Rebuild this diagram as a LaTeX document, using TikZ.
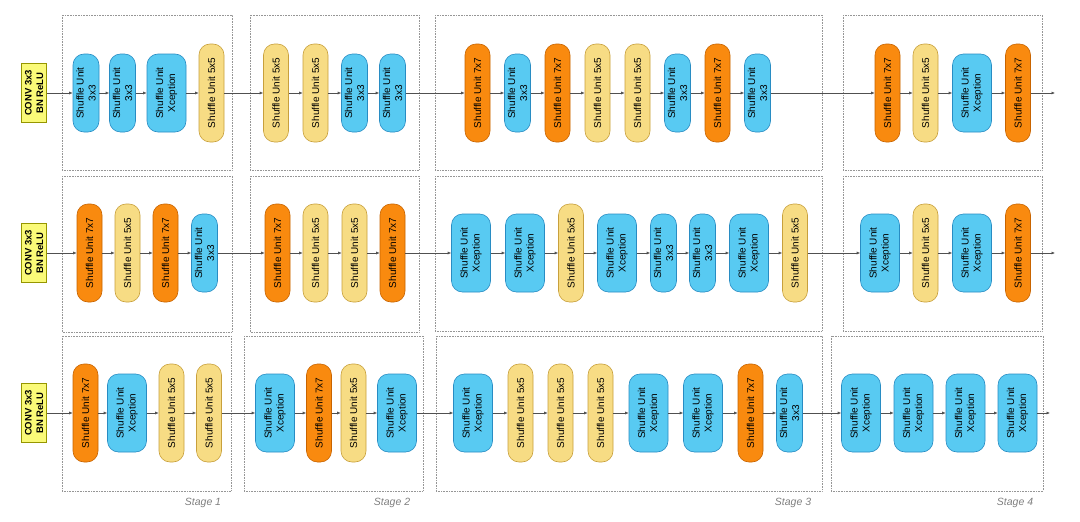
\documentclass[tikz,border=0pt]{standalone}
\usepackage{fontspec}
\setmainfont{Liberation Sans}
\newfontfamily\arialf{Liberation Sans}
\usetikzlibrary{arrows.meta}
\definecolor{bfill}{RGB}{88,202,242}
\definecolor{bdraw}{RGB}{40,140,195}
\definecolor{yfill}{RGB}{247,220,132}
\definecolor{ydraw}{RGB}{200,160,60}
\definecolor{ofill}{RGB}{249,138,15}
\definecolor{odraw}{RGB}{200,100,0}
\definecolor{cfill}{RGB}{250,250,120}
\definecolor{cdraw}{RGB}{150,150,0}
\definecolor{boxgray}{RGB}{150,150,150}
\definecolor{linegray}{RGB}{80,80,80}
\tikzset{
  unit/.style={draw, rounded corners=11pt, rotate=90, align=center, inner sep=0pt,
    line width=0.6pt, font=\arialf\fontsize{10}{12}\selectfont, text=black},
  ua/.style={unit, fill=bfill, draw=bdraw, minimum width=78pt, minimum height=26pt,
    node contents={Shuffle Unit\\3x3}},
  ux/.style={unit, fill=bfill, draw=bdraw, minimum width=78pt, minimum height=39pt,
    node contents={Shuffle Unit\\Xception}},
  uf/.style={unit, fill=yfill, draw=ydraw, minimum width=98pt, minimum height=25pt,
    node contents={Shuffle Unit 5x5}},
  us/.style={unit, fill=ofill, draw=odraw, minimum width=98pt, minimum height=25pt,
    node contents={Shuffle Unit 7x7}},
  convbox/.style={draw=cdraw, fill=cfill, rotate=90, align=center, inner sep=0pt,
    line width=0.6pt, minimum width=59pt, minimum height=25pt,
    font=\arialf\bfseries\fontsize{9.5}{11.5}\selectfont},
  stagebox/.style={draw=boxgray, densely dotted, line width=0.6pt},
  stagelabel/.style={font=\arialf\itshape\fontsize{10.5}{12}\selectfont, text=gray},
  conn/.style={draw=linegray, line width=0.6pt, -{Latex[length=3.5pt,width=3pt]}}
}
\begin{document}
\begin{tikzpicture}[x=1pt,y=1pt]
\fill[white] (0,0) rectangle (1080,-522);
\useasboundingbox (0,0) rectangle (1080,-522);

% stage boxes
\draw[stagebox] (62,-15) rectangle (232,-170);
\draw[stagebox] (250,-15) rectangle (419,-170);
\draw[stagebox] (435,-15) rectangle (822,-170);
\draw[stagebox] (843,-15) rectangle (1042,-170);
\draw[stagebox] (62,-176) rectangle (232,-332);
\draw[stagebox] (250,-176) rectangle (419,-332);
\draw[stagebox] (435,-176) rectangle (822,-331);
\draw[stagebox] (843,-176) rectangle (1042,-331);
\draw[stagebox] (62,-336) rectangle (231,-491);
\draw[stagebox] (244,-336) rectangle (423,-491);
\draw[stagebox] (436,-336) rectangle (822,-491);
\draw[stagebox] (831,-336) rectangle (1043,-491);

% stage labels
\node[stagelabel] (s1) at (203,-503) {Stage 1};
\node[stagelabel] (s2) at (392,-503) {Stage 2};
\node[stagelabel] (s3) at (793,-503) {Stage 3};
\node[stagelabel] (s4) at (1015,-503) {Stage 4};

% conv boxes
\node[convbox] (c1) at (34,-93) {CONV 3x3\\BN ReLU};
\node[convbox] (c2) at (34,-253) {CONV 3x3\\BN ReLU};
\node[convbox] (c3) at (34,-413) {CONV 3x3\\BN ReLU};

% row 1
\foreach \x/\t [count=\i] in {86/a,122.5/a,166.5/x,211.5/f,276/f,315.5/f,354.5/a,392.5/a,
  477.5/s,517.5/a,557.5/s,597.5/f,637.5/f,677.5/a,717.5/s,757.5/a,
  887.5/s,925.5/f,972/x,1018/s}
  {\node (r1n\i) at (\x,-93) [u\t];}
% row 2
\foreach \x/\t [count=\i] in {89.5/s,127.5/f,165.5/s,204.5/a,277.5/s,315.5/f,354.5/f,392.5/s,
  471/x,525/x,571/f,617/x,663.5/a,702.5/a,749/x,795/f,
  880/x,925.5/f,972/x,1018/s}
  {\node (r2n\i) at (\x,-253) [u\t];}
% row 3
\foreach \x/\t [count=\i] in {85.5/s,127/x,171.5/f,209/f,275/x,319/s,353.5/f,397/x,
  473/x,520.5/f,560.5/f,600.5/f,648.5/x,703/x,750.5/s,789.5/a,
  861/x,913.5/x,965.5/x,1017.5/x}
  {\node (r3n\i) at (\x,-413) [u\t];}

\coordinate (e1) at (1055,-93);
\coordinate (e2) at (1055,-253);
\coordinate (e3) at (1050,-413);

% connectors
\foreach \r in {1,2,3}{
  \draw[conn] (c\r) -- (r\r n1);
  \foreach \i in {1,...,19}{
    \pgfmathtruncatemacro\j{\i+1}
    \draw[conn] (r\r n\i) -- (r\r n\j);
  }
  \draw[conn] (r\r n20) -- (e\r);
}
\end{tikzpicture}
\end{document}
